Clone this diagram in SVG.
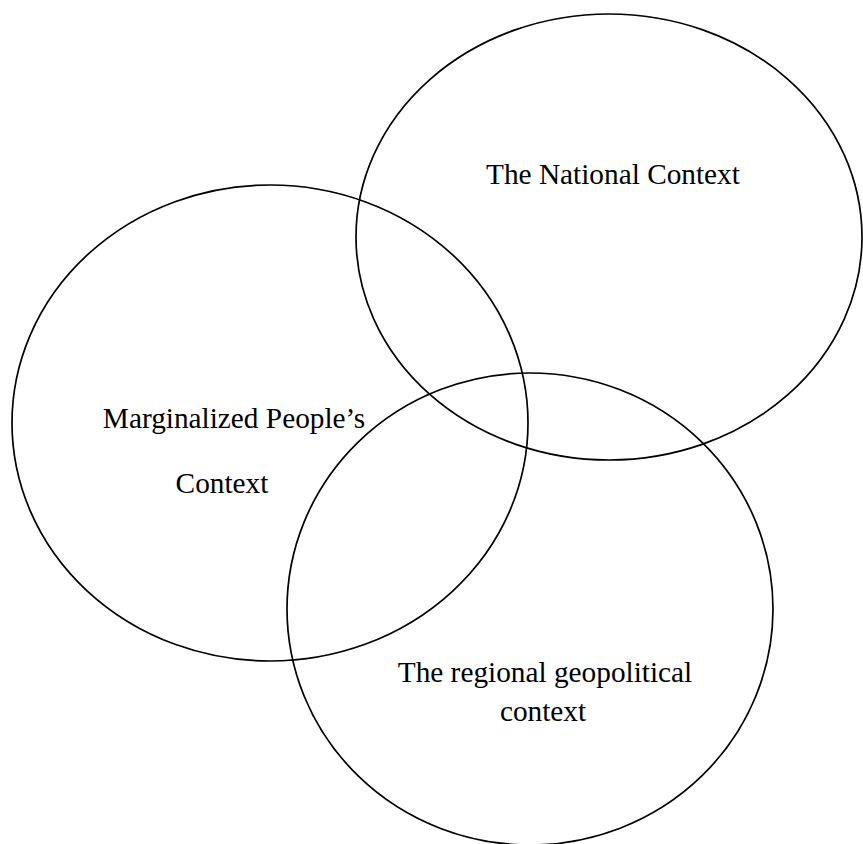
<svg xmlns="http://www.w3.org/2000/svg" width="863" height="844" viewBox="0 0 863 844">
<style>
.c{fill:none;stroke:#000;stroke-width:1.7}
.t{font-family:"Liberation Serif","Times New Roman",serif;font-size:29.3px;fill:#000;text-anchor:middle}
</style>
<rect width="863" height="844" fill="#fff"/>
<g id="marginalized">
<ellipse class="c" cx="270" cy="423" rx="258" ry="238"/>
<text class="t" x="234" y="428">Marginalized People’s</text>
<text class="t" x="222" y="493">Context</text>
</g>
<g id="national">
<ellipse class="c" cx="609" cy="237" rx="253" ry="223"/>
<text class="t" x="613" y="184">The National Context</text>
</g>
<g id="regional">
<ellipse class="c" cx="530" cy="609" rx="243" ry="236"/>
<text class="t" x="545" y="682">The regional geopolitical</text>
<text class="t" x="543" y="721">context</text>
</g>
<g id="connectors"></g>
</svg>
